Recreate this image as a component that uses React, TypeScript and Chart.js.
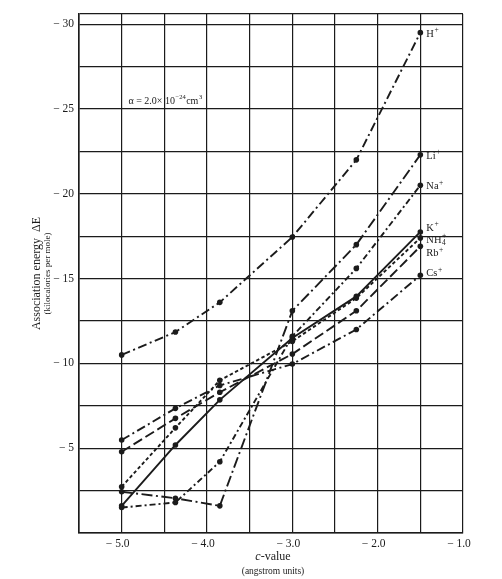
import React, { useEffect, useRef } from "react";
import { Chart, registerables } from "chart.js";

Chart.register(...registerables);

// c-values (angstrom units) at which each ion was computed
const cValues = [-5.0, -4.37, -3.85, -3.0, -2.25, -1.5];

// Association energy ΔE (kcal/mol) per ion
const hPlus = [-10.5, -11.85, -13.6, -17.45, -22.0, -29.5];
const liPlus = [-2.43, -2.05, -1.6, -13.1, -17.0, -22.3];
const naPlus = [-1.5, -1.8, -4.2, -11.6, -15.6, -20.5];
const kPlus = [-1.6, -5.19, -7.85, -11.5, -13.95, -17.75];
const nh4Plus = [-2.73, -6.2, -9.0, -11.3, -13.85, -17.4];
const rbPlus = [-4.79, -6.76, -8.3, -10.55, -13.1, -16.9];
const csPlus = [-5.48, -7.35, -8.7, -9.96, -12.0, -15.2];

// tick labels
const xTickValues = [-5, -4, -3, -2, -1];
const yTickValues = [-30, -25, -20, -15, -10, -5];

// ion label text: [base, subscript, superscript]
const ionLabels: [string, string, string][] = [
  ["H", "", "+"],
  ["Li", "", "+"],
  ["Na", "", "+"],
  ["K", "", "+"],
  ["NH", "4", "+"],
  ["Rb", "", "+"],
  ["Cs", "", "+"],
];
const ionLabelDy = [0, 0, 0, -5, 1, 6, -3];

const INK = "#1b1b1b";
const SERIF = "'Liberation Serif', 'DejaVu Serif', serif";

const series = [hPlus, liPlus, naPlus, kPlus, nh4Plus, rbPlus, csPlus];
const dashes: number[][] = [
  [9, 3.5, 2, 3.5],
  [11, 3.5, 2, 3.5],
  [6, 3, 2, 3],
  [],
  [3.5, 2.5],
  [10, 4],
  [9, 3.5, 2, 3.5],
];

const textPlugin = {
  id: "textPlugin",
  afterDraw(chart: any) {
    const ctx = chart.ctx as CanvasRenderingContext2D;
    const xs = chart.scales.x;
    const ys = chart.scales.y;
    const area = chart.chartArea;
    ctx.save();
    ctx.fillStyle = INK;
    ctx.textBaseline = "alphabetic";

    // ion labels at the right end of each curve
    series.forEach((_, i) => {
      const meta = chart.getDatasetMeta(i);
      const pt = meta.data[meta.data.length - 1];
      const [base, sub, sup] = ionLabels[i];
      let x = pt.x + 6;
      const y = pt.y + 4 + ionLabelDy[i];
      ctx.font = `10.5px ${SERIF}`;
      ctx.textAlign = "left";
      ctx.fillText(base, x, y);
      x += ctx.measureText(base).width + 0.5;
      ctx.font = `7.5px ${SERIF}`;
      if (sub) ctx.fillText(sub, x, y + 2.5);
      ctx.fillText(sup, x, y - 4.5);
    });

    // alpha annotation
    {
      let x = xs.getPixelForValue(-4.92);
      const y = ys.getPixelForValue(-25.3);
      ctx.textAlign = "left";
      ctx.font = `10px ${SERIF}`;
      const a = "\u03b1 = 2.0\u00d7 10";
      ctx.fillText(a, x, y);
      x += ctx.measureText(a).width + 0.5;
      ctx.font = `6.5px ${SERIF}`;
      const e = "\u221224";
      ctx.fillText(e, x, y - 4.5);
      x += ctx.measureText(e).width + 0.5;
      ctx.font = `10px ${SERIF}`;
      ctx.fillText("cm", x, y);
      x += ctx.measureText("cm").width + 0.5;
      ctx.font = `6.5px ${SERIF}`;
      ctx.fillText("3", x, y - 4.5);
    }

    // y-axis title
    {
      const cy = (area.top + area.bottom) / 2;
      ctx.save();
      ctx.translate(42, cy);
      ctx.rotate(-Math.PI / 2);
      ctx.textAlign = "center";
      ctx.textBaseline = "middle";
      ctx.font = `12px ${SERIF}`;
      ctx.fillText("Association energy  \u0394E", 0, -5);
      ctx.font = `9px ${SERIF}`;
      ctx.fillText("(kilocalories per mole)", 0, 6);
      ctx.restore();
    }

    // x-axis title
    {
      const cx = (area.left + area.right) / 2 + 2;
      ctx.textAlign = "center";
      ctx.textBaseline = "middle";
      ctx.font = `12px ${SERIF}`;
      const w1 = ctx.measureText("-value").width;
      ctx.font = `italic 12px ${SERIF}`;
      const wc = ctx.measureText("c").width;
      const start = cx - (w1 + wc) / 2;
      ctx.textAlign = "left";
      ctx.fillText("c", start, 557);
      ctx.font = `12px ${SERIF}`;
      ctx.fillText("-value", start + wc, 557);
      ctx.textAlign = "center";
      ctx.font = `9.5px ${SERIF}`;
      ctx.fillText("(angstrom units)", cx, 571);
    }
    ctx.restore();
  },
};

const bgPlugin = {
  id: "bgPlugin",
  beforeDraw(chart: any) {
    const ctx = chart.ctx as CanvasRenderingContext2D;
    ctx.save();
    ctx.fillStyle = "#ffffff";
    ctx.fillRect(0, 0, chart.width, chart.height);
    ctx.restore();
  },
};

export default function App() {
  const ref = useRef<HTMLCanvasElement | null>(null);

  useEffect(() => {
    if (!ref.current) return;
    const names = ["H+", "Li+", "Na+", "K+", "NH4+", "Rb+", "Cs+"];
    const chart = new Chart(ref.current, {
      type: "line",
      data: {
        datasets: series.map((vals, i) => ({
          label: names[i],
          data: vals.map((v, j) => ({ x: cValues[j], y: v })),
          borderColor: INK,
          backgroundColor: INK,
          borderWidth: 1.9,
          borderDash: dashes[i],
          pointRadius: 2.8,
          pointHoverRadius: 2.8,
          pointBorderWidth: 0,
          pointBackgroundColor: INK,
          tension: 0,
          fill: false,
        })),
      },
      options: {
        animation: false,
        responsive: false,
        devicePixelRatio: 1,
        events: [],
        layout: { padding: { top: 14, right: 39, left: 0, bottom: 0 } },
        plugins: {
          legend: { display: false },
          tooltip: { enabled: false },
          title: { display: false },
        },
        scales: {
          x: {
            type: "linear",
            min: -5.5,
            max: -1.0,
            afterFit: (axis: any) => {
              axis.height = 46;
            },
            afterBuildTicks: (axis: any) => {
              const t = [];
              for (let k = 0; k <= 9; k++) t.push({ value: -5.5 + k * 0.5 });
              axis.ticks = t;
            },
            grid: { color: INK, lineWidth: 1.2, drawTicks: false },
            border: { color: INK, width: 1.6 },
            ticks: {
              autoSkip: false,
              maxRotation: 0,
              padding: 4,
              labelOffset: -4,
              color: INK,
              font: { family: SERIF, size: 11.5 },
              callback: (v: any) => {
                const n = Number(v);
                const hit = xTickValues.find((t) => Math.abs(t - n) < 1e-6);
                return hit === undefined ? "" : "\u2212 " + Math.abs(hit).toFixed(1);
              },
            },
          },
          y: {
            type: "linear",
            reverse: true,
            min: -30.6,
            max: 0,
            afterFit: (axis: any) => {
              axis.width = 79;
            },
            afterBuildTicks: (axis: any) => {
              const t = [{ value: -30.6 }];
              for (let k = 0; k <= 12; k++) t.push({ value: -30 + k * 2.5 });
              axis.ticks = t;
            },
            grid: { color: INK, lineWidth: 1.2, drawTicks: false },
            border: { color: INK, width: 1.6 },
            ticks: {
              autoSkip: false,
              padding: 5,
              color: INK,
              font: { family: SERIF, size: 11.5 },
              callback: (v: any) => {
                const n = Number(v);
                const hit = yTickValues.find((t) => Math.abs(t - n) < 1e-6);
                return hit === undefined ? "" : "\u2212 " + Math.abs(hit);
              },
            },
          },
        },
      },
      plugins: [bgPlugin, textPlugin],
    });
    return () => chart.destroy();
  }, []);

  return (
    <div style={{ position: "absolute", left: 0, top: 0, width: 502, height: 579, background: "#fff" }}>
      <canvas ref={ref} width={502} height={579} style={{ width: 502, height: 579, display: "block" }} />
    </div>
  );
}
